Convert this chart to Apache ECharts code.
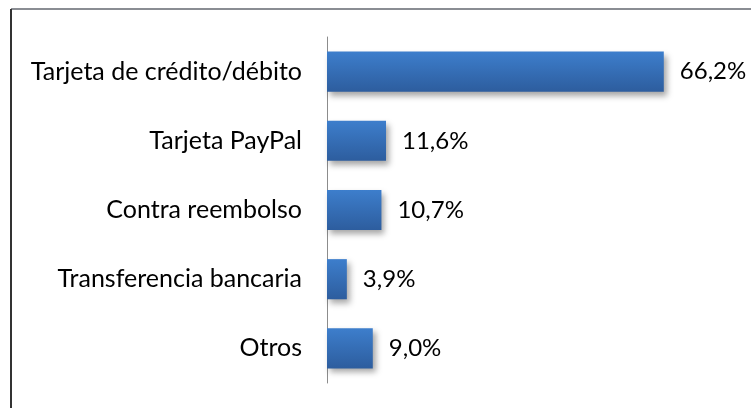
<!DOCTYPE html>
<html>
<head>
<meta charset="utf-8">
<script src="https://cdn.jsdelivr.net/npm/echarts@6/dist/echarts.min.js"></script>
<style>
  html, body { margin: 0; padding: 0; background: #fff; }
  #chart { width: 751px; height: 408px; }
</style>
</head>
<body>
<div id="chart"></div>
<script>
// medios de pago
const categorias = ['Tarjeta de crédito/débito', 'Tarjeta PayPal', 'Contra reembolso', 'Transferencia bancaria', 'Otros'];
const porcentajes = [66.2, 11.6, 10.7, 3.9, 9.0];

const chart = echarts.init(document.getElementById('chart'));

const option = {
  backgroundColor: '#fff',
  animation: false,
  graphic: [
    // marco del gráfico
    { type: 'line', shape: { x1: 11, y1: 9, x2: 751, y2: 9 }, style: { stroke: '#8a8d93', lineWidth: 2 } },
    { type: 'line', shape: { x1: 11, y1: 9, x2: 11, y2: 408 }, style: { stroke: '#333', lineWidth: 2 } }
  ],
  grid: { left: 327, right: 17, top: 37, bottom: 25 },
  xAxis: {
    type: 'value',
    min: 0,
    max: 80,
    show: false
  },
  yAxis: {
    type: 'category',
    data: categorias,
    inverse: true,
    axisLine: { lineStyle: { color: '#8c8c8c', width: 1 } },
    axisTick: { show: false },
    axisLabel: {
      color: '#000',
      fontFamily: 'Lato',
      fontSize: 25,
      margin: 25
    }
  },
  series: [{
    type: 'bar',
    data: porcentajes,
    barWidth: '58%',
    itemStyle: {
      color: new echarts.graphic.LinearGradient(0, 0, 0, 1, [
        { offset: 0, color: '#3d7ecc' },
        { offset: 1, color: '#2d5d9e' }
      ]),
      shadowColor: 'rgba(0,0,0,0.35)',
      shadowBlur: 6,
      shadowOffsetX: 3,
      shadowOffsetY: 4
    },
    label: {
      show: true,
      position: 'right',
      distance: 16,
      color: '#000',
      fontFamily: 'Lato',
      fontSize: 24,
      formatter: p => p.value.toFixed(1).replace('.', ',') + '%'
    }
  }]
};

chart.setOption(option);
</script>
</body>
</html>
